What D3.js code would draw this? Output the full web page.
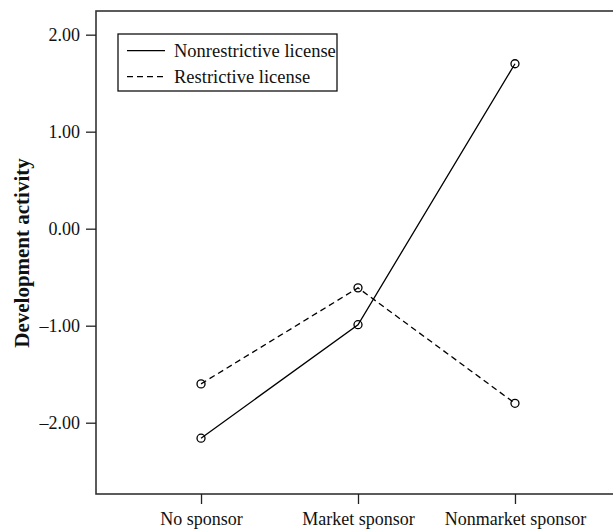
<!DOCTYPE html>
<html>
<head>
<meta charset="utf-8">
<script src="https://cdn.jsdelivr.net/npm/d3@7"></script>
<style>
  body { margin: 0; background: #fff; }
  svg text { font-family: "Liberation Serif", "Times New Roman", serif; fill: #111; }
</style>
</head>
<body>
<div id="chart"></div>
<script>
var categories = ["No sponsor", "Market sponsor", "Nonmarket sponsor"];
var nonrestrictive = [-2.16, -0.99, 1.70];
var restrictive = [-1.60, -0.61, -1.80];
var yTicks = [-2, -1, 0, 1, 2];
var seriesNames = ["Nonrestrictive license", "Restrictive license"];

var width = 613, height = 531;
var plotLeft = 96, plotTop = 11, plotBottom = 494, plotRight = 620;

var svg = d3.select('#chart')
    .append('svg')
    .attr('width', width)
    .attr('height', height);

var x = d3.scalePoint()
    .domain(categories)
    .range([plotLeft, plotRight])
    .padding(0.669);

var y = d3.scaleLinear()
    .domain([-2.735, 2.244])
    .range([plotBottom, plotTop]);

// frame (right side runs off the page like the original)
svg.append('rect')
    .attr('x', plotLeft)
    .attr('y', plotTop)
    .attr('width', 540)
    .attr('height', plotBottom - plotTop)
    .attr('fill', 'none')
    .attr('stroke', '#333')
    .style('stroke-width', '1.6px');

var fmt = d3.format('.2f');
var yAxis = svg.append('g')
    .attr('transform', 'translate(' + plotLeft + ',0)')
    .call(d3.axisLeft(y).tickValues(yTicks).tickSize(10).tickPadding(6)
        .tickFormat(d => fmt(d).replace('\u2212', '\u2013').replace('-', '\u2013')));
yAxis.select('.domain').remove();
yAxis.selectAll('line').attr('stroke', '#222').style('stroke-width', '1.3px');
yAxis.selectAll('text').style('font-size', '18px').style('font-family', '"Liberation Serif", serif').attr('fill', '#111');

var xAxis = svg.append('g')
    .attr('transform', 'translate(0,' + plotBottom + ')')
    .call(d3.axisBottom(x).tickSize(10).tickPadding(8));
xAxis.select('.domain').remove();
xAxis.selectAll('line').attr('stroke', '#222').style('stroke-width', '1.3px');
xAxis.selectAll('text').style('font-size', '18px').style('font-family', '"Liberation Serif", serif').attr('fill', '#111');

svg.append('text')
    .attr('transform', 'translate(29,' + 253 + ') rotate(-90)')
    .attr('text-anchor', 'middle')
    .style('font-size', '21px')
    .style('font-weight', 'bold')
    .text('Development activity');

var series = [
    { name: seriesNames[0], values: nonrestrictive, dash: null },
    { name: seriesNames[1], values: restrictive, dash: '6,4' }
];

var line = d3.line()
    .x((d, i) => x(categories[i]))
    .y(d => y(d));

series.forEach(function (s) {
    svg.append('path')
        .attr('d', line(s.values))
        .attr('fill', 'none')
        .attr('stroke', '#000')
        .attr('stroke-dasharray', s.dash)
        .style('stroke-width', '1.3px');

    svg.selectAll(null)
        .data(s.values)
        .enter()
        .append('circle')
        .attr('cx', (d, i) => x(categories[i]))
        .attr('cy', d => y(d))
        .attr('r', 4)
        .attr('fill', 'none')
        .attr('stroke', '#000')
        .style('stroke-width', '1.3px');
});

// legend
var legend = svg.append('g').attr('transform', 'translate(118,34)');
legend.append('rect')
    .attr('width', 219)
    .attr('height', 57)
    .attr('fill', '#fff')
    .attr('stroke', '#111')
    .style('stroke-width', '1.3px');

series.forEach(function (s, i) {
    var ly = 16.7 + i * 26;
    legend.append('line')
        .attr('x1', 9).attr('x2', 47)
        .attr('y1', ly).attr('y2', ly)
        .attr('stroke', '#000')
        .attr('stroke-dasharray', s.dash)
        .style('stroke-width', '1.3px');
    legend.append('text')
        .attr('x', 56)
        .attr('y', ly)
        .attr('dy', '0.32em')
        .style('font-size', '18.5px')
        .text(s.name);
});
</script>
</body>
</html>
